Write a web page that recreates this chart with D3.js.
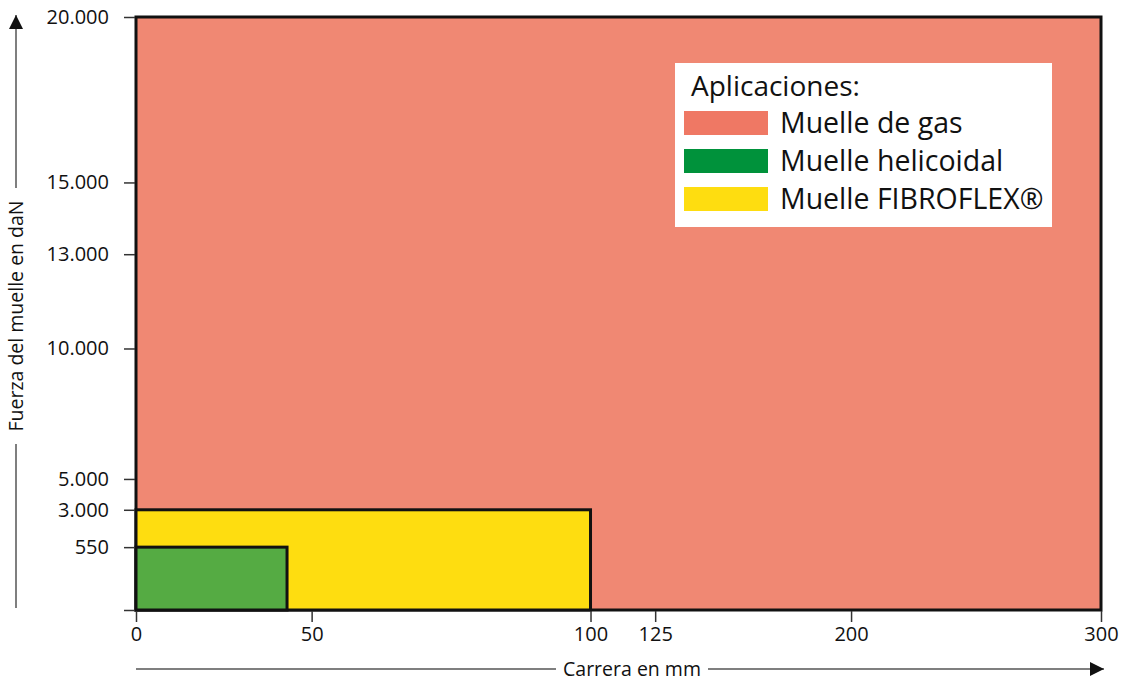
<!DOCTYPE html>
<html>
<head>
<meta charset="utf-8">
<script src="https://cdn.jsdelivr.net/npm/d3@7"></script>
<style>
  body { margin: 0; background: #fff; }
  svg { display: block; font-family: "Open Sans", sans-serif; }
</style>
</head>
<body>
<svg id="chart" width="1122" height="683"></svg>
<script>
// spring types, stroke (mm) and force (daN) limits
var categories = ['Muelle de gas', 'Muelle FIBROFLEX®', 'Muelle helicoidal'];
var carreraMax = [300, 100, 43];
var fuerzaMax = [20000, 3000, 550];
var fills = ['#f08873', '#fedd10', '#55ab43'];

// legend order differs from draw order
var legendItems = ['Muelle de gas', 'Muelle helicoidal', 'Muelle FIBROFLEX®'];
var legendColors = ['#ef7864', '#00923b', '#fedd10'];

// axis ticks (the axis is not linear, each tick has its own spot)
var xTicks = [0, 50, 100, 125, 200, 300];
var xTickPos = [0, 0.182, 0.471, 0.538, 0.741, 1];
var yTicks = [0, 550, 3000, 5000, 10000, 13000, 15000, 20000];
var yTickPos = [0, 0.106, 0.169, 0.221, 0.441, 0.600, 0.721, 1];

var svg = d3.select('#chart');
var plotLeft = 136, plotRight = 1101, plotTop = 17, plotBottom = 610;

var x = d3.scaleLinear()
    .domain(xTicks)
    .range(xTickPos.map(function (p) { return plotLeft + p * (plotRight - plotLeft); }));
var y = d3.scaleLinear()
    .domain(yTicks)
    .range(yTickPos.map(function (p) { return plotBottom - p * (plotBottom - plotTop); }));

var fmt = function (d) {
    return d >= 1000 ? d3.format(',')(d).replace(/,/g, '.') : String(d);
};

// rectangles, biggest first
svg.append('g')
  .selectAll('rect')
    .data(categories).enter()
  .append('rect')
    .attr('x', x(0))
    .attr('y', function (d, i) { return y(fuerzaMax[i]); })
    .attr('width', function (d, i) { return x(carreraMax[i]) - x(0); })
    .attr('height', function (d, i) { return y(0) - y(fuerzaMax[i]); })
    .attr('fill', function (d, i) { return fills[i]; })
    .attr('stroke', '#111')
    .attr('stroke-width', 3);

// y axis
var yAxis = svg.append('g')
    .attr('transform', 'translate(' + (plotLeft - 1) + ',0)')
    .call(d3.axisLeft(y).tickValues(yTicks).tickSize(11).tickPadding(15)
        .tickFormat(function (d) { return d === 0 ? '' : fmt(d); }));
yAxis.select('.domain').remove();
yAxis.selectAll('line').attr('stroke', '#333').attr('stroke-width', 1.5);
yAxis.selectAll('text').attr('font-size', 20).attr('fill', '#111')
    .attr('font-family', '"Open Sans", sans-serif');

// x axis
var xAxis = svg.append('g')
    .attr('transform', 'translate(0,' + (plotBottom + 1) + ')')
    .call(d3.axisBottom(x).tickValues(xTicks).tickSize(11).tickPadding(5)
        .tickFormat(fmt));
xAxis.select('.domain').remove();
xAxis.selectAll('line').attr('stroke', '#333').attr('stroke-width', 1.5);
xAxis.selectAll('text').attr('font-size', 20).attr('fill', '#111')
    .attr('font-family', '"Open Sans", sans-serif');

// arrows
var defs = svg.append('defs');
defs.append('marker')
    .attr('id', 'arrow')
    .attr('viewBox', '0 0 10 10')
    .attr('refX', 10).attr('refY', 5)
    .attr('markerWidth', 16).attr('markerHeight', 14)
    .attr('markerUnits', 'userSpaceOnUse')
    .attr('orient', 'auto')
  .append('path')
    .attr('d', 'M0,0 L10,5 L0,10 z')
    .attr('fill', '#111');

// y arrow, broken by its label
var yArrowX = 16;
svg.append('line').attr('x1', yArrowX).attr('x2', yArrowX)
    .attr('y1', 608).attr('y2', 444).attr('stroke', '#555').attr('stroke-width', 1.5);
svg.append('line').attr('x1', yArrowX).attr('x2', yArrowX)
    .attr('y1', 188).attr('y2', 15).attr('stroke', '#555').attr('stroke-width', 1.5)
    .attr('marker-end', 'url(#arrow)');
svg.append('text')
    .attr('transform', 'translate(' + (yArrowX + 7) + ',316) rotate(-90)')
    .attr('text-anchor', 'middle')
    .attr('font-size', 19.5).attr('fill', '#111')
    .text('Fuerza del muelle en daN');

// x arrow
var xArrowY = 669;
svg.append('line').attr('x1', 136).attr('x2', 556)
    .attr('y1', xArrowY).attr('y2', xArrowY).attr('stroke', '#555').attr('stroke-width', 1.5);
svg.append('line').attr('x1', 708).attr('x2', 1104)
    .attr('y1', xArrowY).attr('y2', xArrowY).attr('stroke', '#555').attr('stroke-width', 1.5)
    .attr('marker-end', 'url(#arrow)');
svg.append('text')
    .attr('x', 632).attr('y', xArrowY + 7)
    .attr('text-anchor', 'middle')
    .attr('font-size', 19.5).attr('fill', '#111')
    .text('Carrera en mm');

// legend
var legend = svg.append('g').attr('transform', 'translate(675,63)');
legend.append('rect')
    .attr('width', 377).attr('height', 164)
    .attr('fill', '#fff');
legend.append('text')
    .attr('x', 16).attr('y', 33)
    .attr('font-size', 28).attr('fill', '#111')
    .text('Aplicaciones:');
var rows = legend.selectAll('g.row')
    .data(legendItems).enter()
  .append('g')
    .attr('class', 'row')
    .attr('transform', function (d, i) { return 'translate(9,' + (48 + i * 38) + ')'; });
rows.append('rect')
    .attr('width', 84).attr('height', 24)
    .attr('fill', function (d, i) { return legendColors[i]; });
rows.append('text')
    .attr('x', 96).attr('y', 22)
    .attr('font-size', 28.5).attr('fill', '#111')
    .text(function (d) { return d; });
</script>
</body>
</html>
